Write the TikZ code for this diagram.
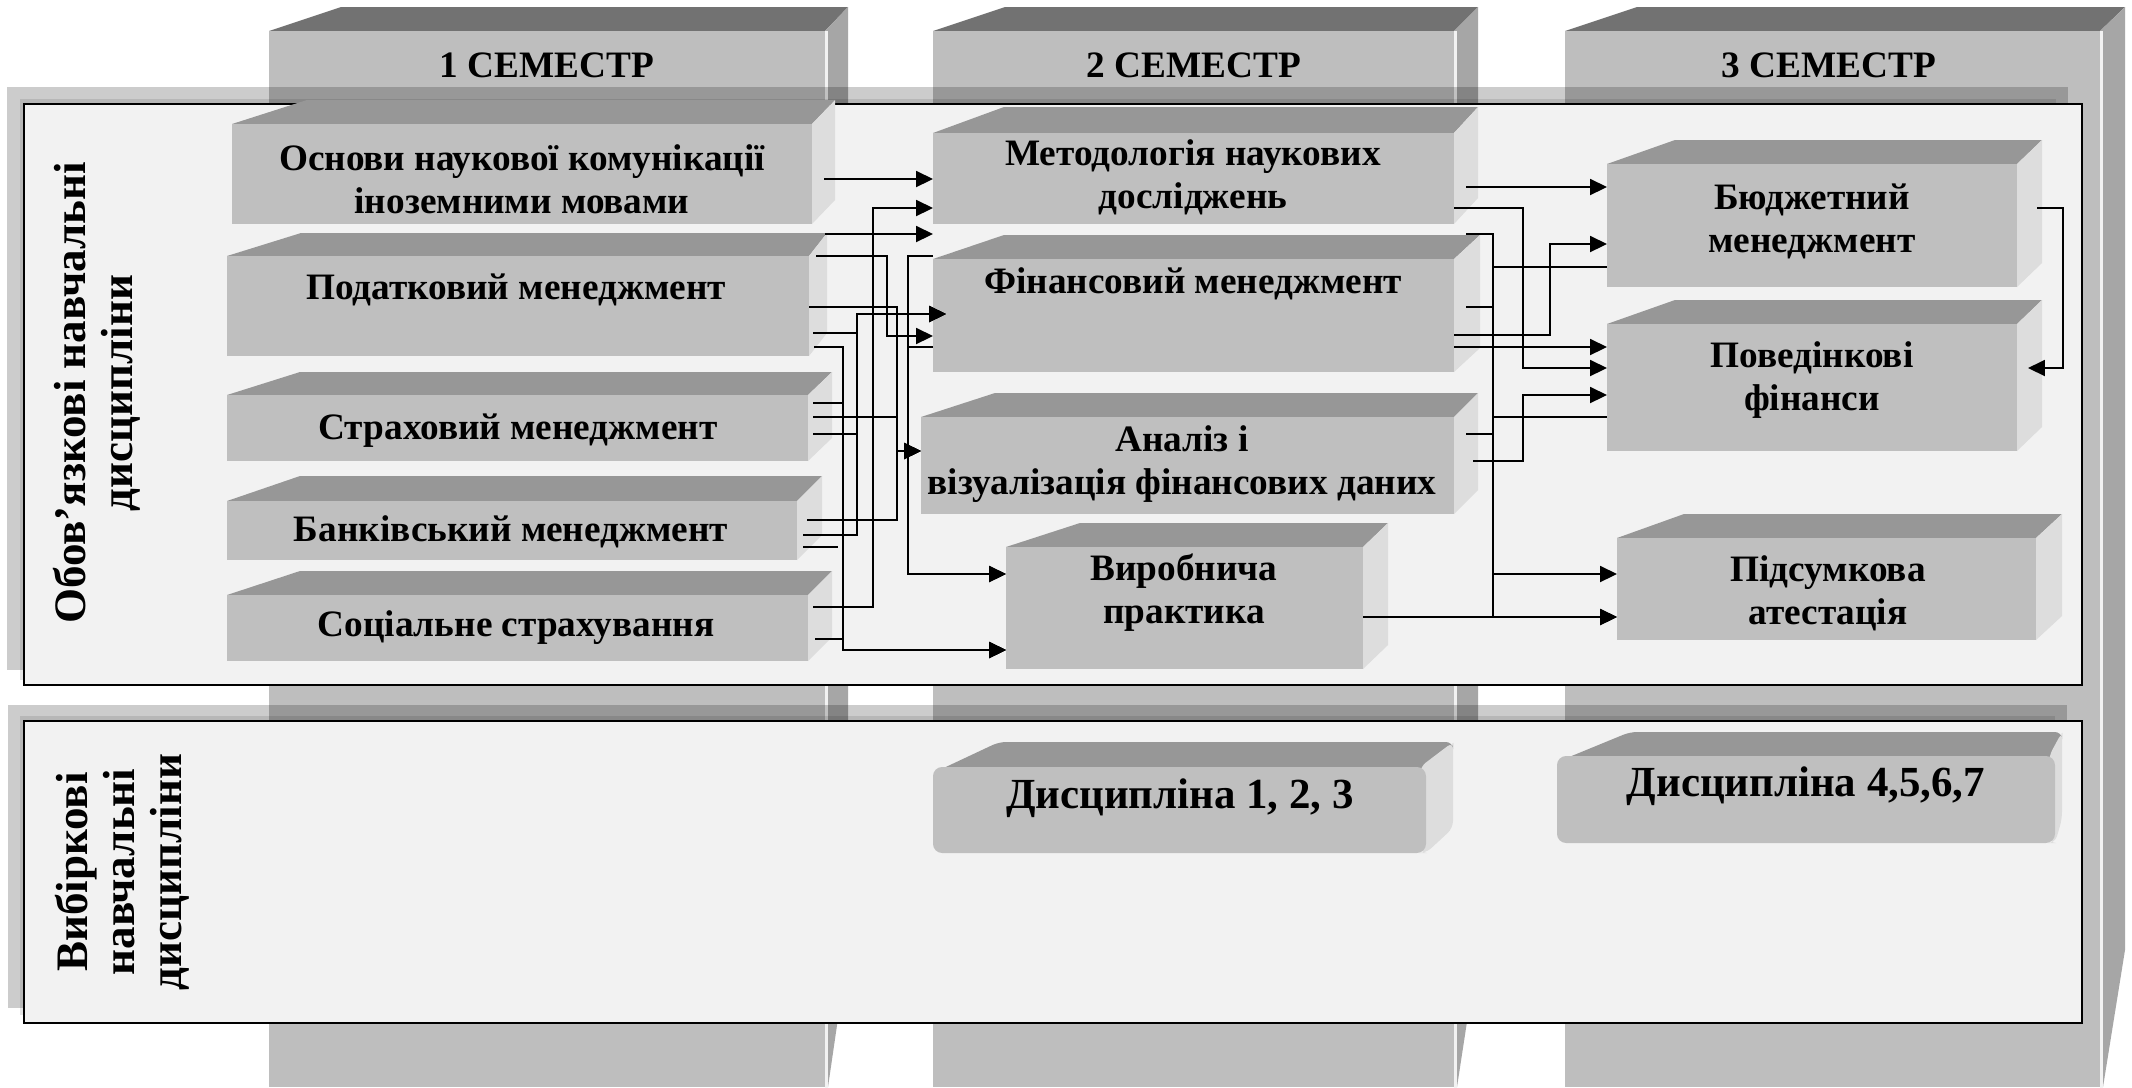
\documentclass[tikz,border=0pt]{standalone}
\usepackage{fontspec}
\setmainfont{Liberation Serif}
\usetikzlibrary{arrows.meta,calc,fit}
\definecolor{colfront}{HTML}{BEBEBE}
\definecolor{coltop}{HTML}{727272}
\definecolor{colside}{HTML}{A6A6A6}
\definecolor{bfrontc}{HTML}{BFBFBF}
\definecolor{btopc}{HTML}{979797}
\definecolor{bsidec}{HTML}{DDDDDD}
\definecolor{panelc}{HTML}{F2F2F2}
\tikzset{
  bfront/.style={fill=bfrontc, inner sep=0pt, outer sep=0pt},
  lbl/.style={font=\fontsize{10.6}{12.2}\selectfont\bfseries, align=center, inner sep=0pt, text=black},
  biglbl/.style={font=\fontsize{12.2}{14}\selectfont\bfseries, align=center, inner sep=0pt, text=black},
  sidelbl/.style={font=\fontsize{12.8}{13.4}\selectfont\bfseries, align=center, inner sep=0pt, rotate=90},
  conn/.style={draw=black, line width=0.68pt},
  thinconn/.style={draw=black, line width=0.45pt},
  arr/.style={-{Triangle[length=4.8pt,width=4.5pt]}},
  panel/.style={fill=panelc, draw=black, line width=0.75pt, inner sep=0pt},
}
% 3D box: name, xl, yt, xr, yb, dl, dr, d
\newcommand{\dbox}[8]{%
  \fill[btopc] (#2,#3) -- (#2+#6,#3-#8) -- (#4+#7,#3-#8) -- (#4,#3) -- cycle;
  \fill[bsidec] (#4,#3) -- (#4+#7,#3-#8) -- (#4+#7,#5-#8) -- (#4,#5) -- cycle;
  \node[bfront, fit={(#2,#3) (#4,#5)}] (#1) {};
}
\newcommand{\rdbox}[8]{%
  \fill[btopc, rounded corners=2pt] (#2,#3+6) -- (#2+#6,#3-#8) -- (#4+#7,#3-#8) -- (#4+#7,#3-#8+8) -- (#4,#3+8) -- cycle;
  \fill[bsidec, rounded corners=2pt] (#4-6,#3) -- (#4+#7,#3-#8) -- (#4+#7,#5-#8) -- (#4,#5) -- (#4-6,#5) -- cycle;
  \node[bfront, rounded corners=2.6pt, fit={(#2,#3) (#4,#5)}] (#1) {};
}
% semester column: name, xl, xr, dl, dr
\newcommand{\scol}[5]{%
  \fill[coltop] (#2,31) -- (#2+#4,7) -- (#3+#5,7) -- (#3,31) -- cycle;
  \fill[colside] (#3,31) -- (#3+#5,7) -- (#3+#5,950) -- (#3+3,1087) -- (#3,1087) -- cycle;
  \node[fill=colfront, inner sep=0pt, outer sep=0pt, fit={(#2,31) (#3,1087)}] (#1) {};
  \draw[white!90!gray, line width=0.7pt] (#3+1.5,31) -- (#3+1.5,1087);
}
\begin{document}
\begin{tikzpicture}[x=0.01cm, y=-0.01cm]
\useasboundingbox (0,0) rectangle (2132,1087);
\fill[white] (0,0) rectangle (2132,1087);

% semester columns
\scol{col1}{269}{825}{72}{23}
\scol{col2}{933}{1454}{72}{24}
\scol{col3}{1565}{2100}{72}{25}
\node[lbl] (sl1) at (547,65) {1 СЕМЕСТР};
\node[lbl] (sl2) at (1194,65) {2 СЕМЕСТР};
\node[lbl] (sl3) at (1829,65) {3 СЕМЕСТР};

% panel 1
\fill[black, opacity=0.2] (7,87) rectangle (2068,670);
\fill[black, opacity=0.1] (20,99) rectangle (2056,680);
\node[panel, fit={(24,104) (2082,685)}] (pan1) {};
% panel 2
\fill[black, opacity=0.2] (8,705) rectangle (2067,1008);
\fill[black, opacity=0.1] (20,716) rectangle (2055,1015);
\node[panel, fit={(24,721) (2082,1023)}] (pan2) {};

\node[sidelbl] (lab1) at (97,393) {Обов’язкові навчальні\\дисципліни};
\node[sidelbl] (lab2) at (122,872) {Вибіркові\\навчальні\\дисципліни};

% boxes, semester 1
\dbox{osn}{232}{124}{812}{224}{75}{23}{24}
\dbox{pod}{227}{256}{809}{356}{74}{18}{23}
\dbox{str}{227}{395}{808}{461}{73}{24}{23}
\dbox{bank}{227}{501}{797}{560}{73}{25}{25}
\dbox{soc}{227}{595}{808}{661}{73}{24}{24}
% semester 2
\dbox{met}{933}{133}{1454}{224}{71}{24}{26}
\dbox{fin}{933}{259}{1454}{372}{71}{26}{24}
\dbox{anal}{921}{417}{1454}{514}{74}{24}{24}
\dbox{vyr}{1006}{547}{1363}{669}{74}{25}{24}
% semester 3
\dbox{budg}{1607}{164}{2017}{287}{68}{25}{24}
\dbox{pov}{1607}{324}{2017}{451}{68}{25}{24}
\dbox{pids}{1617}{538}{2036}{640}{67}{26}{24}
% elective
\rdbox{d123}{933}{767}{1426}{853}{66}{27}{25}
\rdbox{d4567}{1557}{756}{2055}{843}{73}{7}{24}

\node[lbl] (tosn) at (522,179) {Основи наукової комунікації\\іноземними мовами};
\node[lbl] (tpod) at (516,290) {Податковий менеджмент};
\node[lbl] (tstr) at (518,431) {Страховий менеджмент};
\node[lbl] (tbank) at (511,532) {Банківський менеджмент};
\node[lbl] (tsoc) at (516,628) {Соціальне страхування};
\node[lbl] (tmet) at (1193,177) {Методологія наукових\\досліджень};
\node[lbl] (tfin) at (1193,284) {Фінансовий менеджмент};
\node[lbl] (tanal) at (1182,464) {Аналіз і\\візуалізація фінансових даних};
\node[lbl] (tvyr) at (1184,593) {Виробнича\\практика};
\node[lbl] (tbudg) at (1812,221) {Бюджетний\\менеджмент};
\node[lbl] (tpov) at (1812,380) {Поведінкові\\фінанси};
\node[lbl] (tpids) at (1828,593) {Підсумкова\\атестація};
\node[biglbl] (td123) at (1180,798) {Дисципліна 1, 2, 3};
\node[biglbl] (td4567) at (1806,786) {Дисципліна 4,5,6,7};

% connectors, semester 1 -> semester 2
\draw[conn,arr] ($(osn.east|-0,179)+(12,0)$) -- (met.west|-0,179);
\draw[conn,arr] ($(soc.east|-0,607)+(5,0)$) -- (873,607) -- (873,208) -- (met.west|-0,208);
\draw[conn,arr] ($(pod.north east)+(16,-22)$) -- (met.west|-0,234);
\draw[conn,arr] ($(pod.east|-0,256)+(7,0)$) -- (887,256) -- (887,336) -- (fin.west|-0,336);
\draw[conn,arr] (fin.west|-0,256) -- (908,256) -- (908,574) -- (vyr.west|-0,574);
\draw[conn,arr] (fin.west|-0,347) -- (908,347) -- (908,574) -- (vyr.west|-0,574);
\draw[conn,arr] ($(pod.east|-0,347)+(5,0)$) -- (843,347) -- (843,650) -- (vyr.west|-0,650);
\draw[conn,arr] ($(str.east|-0,403)+(5,0)$) -- (843,403) -- (843,650) -- (vyr.west|-0,650);
\draw[conn,arr] ($(soc.east|-0,639)+(7,0)$) -- (843,639) -- (843,650) -- (vyr.west|-0,650);
\draw[conn,arr] ($(bank.east|-0,535)+(6,0)$) -- (857,535) -- (857,314) -- ($(fin.west|-0,314)+(13,0)$);
\draw[conn,arr] ($(pod.east|-0,333)+(4,0)$) -- (857,333) -- (857,314) -- ($(fin.west|-0,314)+(13,0)$);
\draw[conn,arr] ($(str.east|-0,434)+(5,0)$) -- (857,434) -- (857,314) -- ($(fin.west|-0,314)+(13,0)$);
\draw[conn,arr] (pod.east|-0,307) -- (897,307) -- (897,451) -- (anal.west|-0,451);
\draw[conn,arr] ($(str.east|-0,417)+(5,0)$) -- (897,417) -- (897,451) -- (anal.west|-0,451);
\draw[conn,arr] ($(bank.east|-0,520)+(10,0)$) -- (897,520) -- (897,451) -- (anal.west|-0,451);
\coordinate (stubend) at (838,547);
\draw[conn] ($(bank.east|-0,547)+(6,0)$) -- (stubend);

% connectors, semester 2 -> semester 3
\draw[conn,arr] ($(met.east|-0,187)+(12,0)$) -- (budg.west|-0,187);
\draw[conn,arr] (met.east|-0,208) -- (1523,208) -- (1523,368) -- (pov.west|-0,368);
\draw[conn,arr] (vyr.east|-0,617) -- (pids.west|-0,617);
\draw[conn,arr] ($(fin.north east)+(12,-25)$) -- (1493,234) -- (1493,617) -- (pids.west|-0,617);
\draw[thinconn] ($(fin.north east)+(12,-25)$) -- (1493,234) -- (1493,267) -- (budg.west|-0,267);
\draw[thinconn] ($(fin.east|-0,307)+(12,0)$) -- (1493,307) -- (1493,417) -- (pov.west|-0,417);
\draw[conn,arr] ($(anal.east|-0,434)+(12,0)$) -- (1493,434) -- (1493,574) -- (pids.west|-0,574);
\draw[conn,arr] (fin.east|-0,335) -- (1550,335) -- (1550,244) -- (budg.west|-0,244);
\draw[conn,arr] (fin.east|-0,347) -- (pov.west|-0,347);
\draw[conn,arr] ($(anal.east|-0,461)+(19,0)$) -- (1523,461) -- (1523,395) -- (pov.west|-0,395);
\draw[conn,arr] ($(budg.east|-0,208)+(20,0)$) -- (2063,208) -- (2063,368) -- ($(pov.east|-0,368)+(11,0)$);
\end{tikzpicture}
\end{document}
